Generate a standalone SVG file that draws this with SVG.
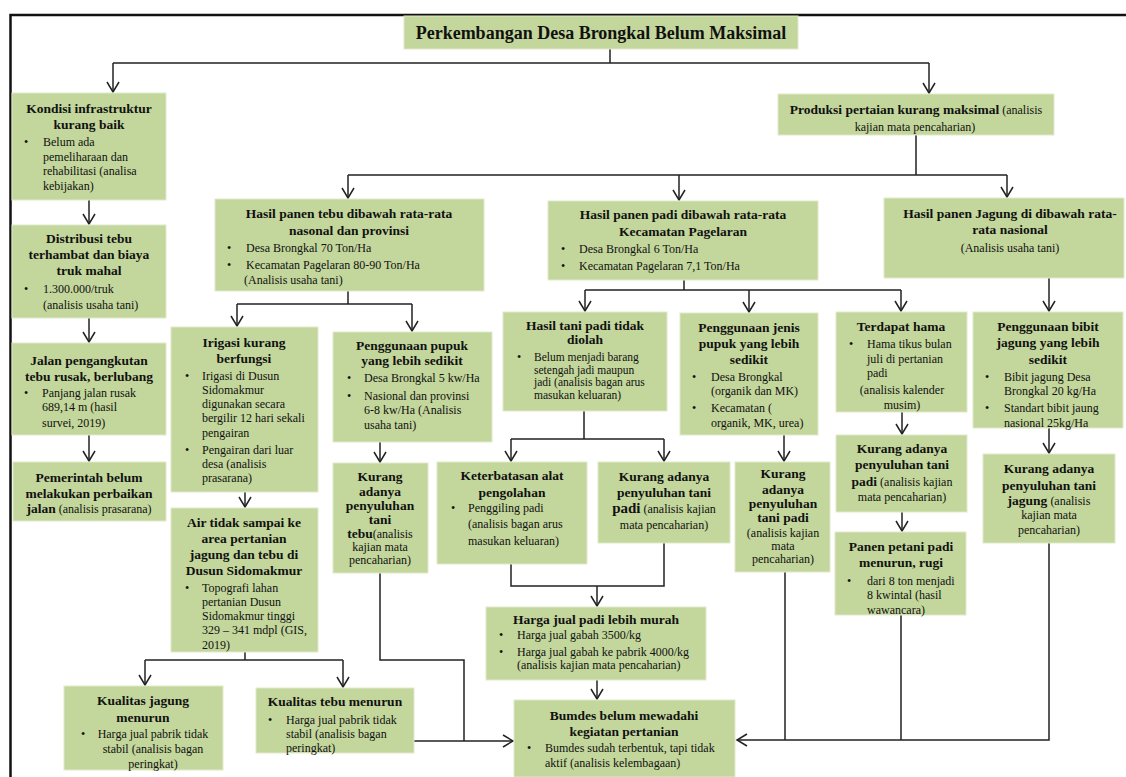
<svg xmlns="http://www.w3.org/2000/svg" width="1126" height="777" viewBox="0 0 1126 777">
<style>
.box{fill:#c3d69b;stroke:#dfe9c9;stroke-width:1}
text{font-family:"Liberation Serif","Times New Roman",serif;fill:#111}
.t{font-size:13.5px;font-weight:bold;text-anchor:middle}
.r{font-size:12px}
.rc{font-size:12px;text-anchor:middle}
.bb{font-weight:bold;font-size:13.5px}
.conn path{fill:none;stroke:#222;stroke-width:1.5}
</style>
<defs>
<marker id="ah" viewBox="-12 -7 14 14" refX="0" refY="0" markerWidth="14" markerHeight="14" markerUnits="userSpaceOnUse" orient="auto">
<path d="M-10,-6 L0,0 L-10,6" fill="none" stroke="#222" stroke-width="1.5"/>
</marker>
</defs>
<rect x="10.5" y="15" width="1130" height="800" fill="#fff" stroke="#111" stroke-width="2.5"/>

<g class="conn">
<path d="M610,49 V63 M113,63 H929"/>
<path d="M113,63 V92" marker-end="url(#ah)"/>
<path d="M929,63 V93" marker-end="url(#ah)"/>
<path d="M89,200 V224" marker-end="url(#ah)"/>
<path d="M89,318 V342" marker-end="url(#ah)"/>
<path d="M89,435 V461" marker-end="url(#ah)"/>
<path d="M916,135 V175 M348,175 H1007"/>
<path d="M348,175 V198" marker-end="url(#ah)"/>
<path d="M679,175 V200" marker-end="url(#ah)"/>
<path d="M1007,175 V197" marker-end="url(#ah)"/>
<path d="M348,291 V304 M237,304 H412"/>
<path d="M237,304 V326" marker-end="url(#ah)"/>
<path d="M412,304 V331" marker-end="url(#ah)"/>
<path d="M245,492 V507" marker-end="url(#ah)"/>
<path d="M245,652 V660 M145,660 H343"/>
<path d="M145,660 V685" marker-end="url(#ah)"/>
<path d="M343,660 V687" marker-end="url(#ah)"/>
<path d="M380,442 V462" marker-end="url(#ah)"/>
<path d="M380,573 V660 H464 V741"/>
<path d="M414,741 H513" marker-end="url(#ah)"/>
<path d="M684,280 V290 M585,290 H901"/>
<path d="M585,290 V311" marker-end="url(#ah)"/>
<path d="M749,290 V312" marker-end="url(#ah)"/>
<path d="M901,290 V311" marker-end="url(#ah)"/>
<path d="M584,411 V439 M511,439 H664"/>
<path d="M511,439 V461" marker-end="url(#ah)"/>
<path d="M664,439 V461" marker-end="url(#ah)"/>
<path d="M511,564 V586 H664 V543"/>
<path d="M597,586 V606" marker-end="url(#ah)"/>
<path d="M597,680 V699" marker-end="url(#ah)"/>
<path d="M784,435 V461" marker-end="url(#ah)"/>
<path d="M902,412 V434" marker-end="url(#ah)"/>
<path d="M902,512 V531" marker-end="url(#ah)"/>
<path d="M1049,278 V311" marker-end="url(#ah)"/>
<path d="M1049,428 V453" marker-end="url(#ah)"/>
<path d="M1049,543 V740 H737" marker-end="url(#ah)"/>
<path d="M785,572 V740 M901,615 V740"/>
</g>

<g id="n_title">
<rect class="box" x="404" y="16" width="394" height="33"/>
<text x="601" y="39" style="font-size:18px;font-weight:bold" text-anchor="middle">Perkembangan Desa Brongkal Belum Maksimal</text>
</g>

<g id="n_infra">
<rect class="box" x="12" y="93" width="154" height="107"/>
<text class="t" x="89" y="113">Kondisi infrastruktur</text>
<text class="t" x="89" y="129">kurang baik</text>
<text class="r" x="24" y="146">•</text>
<text class="r" x="43" y="146">Belum ada</text>
<text class="r" x="43" y="161">pemeliharaan dan</text>
<text class="r" x="43" y="175">rehabilitasi (analisa</text>
<text class="r" x="43" y="190">kebijakan)</text>
</g>

<g id="n_distribusi">
<rect class="box" x="12" y="225" width="154" height="93"/>
<text class="t" x="89" y="243">Distribusi tebu</text>
<text class="t" x="89" y="259">terhambat dan biaya</text>
<text class="t" x="89" y="275">truk mahal</text>
<text class="r" x="24" y="293">•</text>
<text class="r" x="43" y="293">1.300.000/truk</text>
<text class="r" x="43" y="309">(analisis usaha tani)</text>
</g>

<g id="n_jalan">
<rect class="box" x="12" y="343" width="154" height="92"/>
<text class="t" x="89" y="365">Jalan  pengangkutan</text>
<text class="t" x="89" y="381">tebu rusak, berlubang</text>
<text class="r" x="24" y="397">•</text>
<text class="r" x="42" y="397">Panjang jalan rusak</text>
<text class="r" x="42" y="411">689,14 m  (hasil</text>
<text class="r" x="42" y="427">survei, 2019)</text>
</g>

<g id="n_pemerintah">
<rect class="box" x="13" y="462" width="153" height="59"/>
<text class="t" x="89" y="482">Pemerintah belum</text>
<text class="t" x="89" y="498">melakukan perbaikan</text>
<text class="rc" x="89" y="513"><tspan class="bb">jalan</tspan> (analisis prasarana)</text>
</g>

<g id="n_produksi">
<rect class="box" x="778" y="94" width="276" height="41"/>
<text class="rc" x="916" y="114"><tspan class="bb">Produksi pertaian kurang maksimal</tspan> (analisis</text>
<text class="rc" x="915" y="131">kajian mata pencaharian)</text>
</g>

<g id="n_tebu">
<rect class="box" x="215" y="199" width="269" height="92"/>
<text class="t" x="349" y="218">Hasil panen tebu dibawah rata-rata</text>
<text class="t" x="349" y="235">nasonal dan provinsi</text>
<text class="r" x="227" y="252">•</text>
<text class="r" x="246" y="252">Desa Brongkal 70 Ton/Ha</text>
<text class="r" x="227" y="269">•</text>
<text class="r" x="246" y="269">Kecamatan Pagelaran 80-90 Ton/Ha</text>
<text class="r" x="244" y="284">(Analisis usaha tani)</text>
</g>

<g id="n_padi">
<rect class="box" x="548" y="201" width="270" height="79"/>
<text class="t" x="683" y="219">Hasil panen padi dibawah rata-rata</text>
<text class="t" x="683" y="236">Kecamatan Pagelaran</text>
<text class="r" x="561" y="253">•</text>
<text class="r" x="579" y="253">Desa Brongkal 6 Ton/Ha</text>
<text class="r" x="561" y="270">•</text>
<text class="r" x="579" y="270">Kecamatan Pagelaran 7,1 Ton/Ha</text>
</g>

<g id="n_jagung">
<rect class="box" x="884" y="198" width="240" height="80"/>
<text class="t" x="1010" y="218">Hasil panen Jagung di dibawah rata-</text>
<text class="t" x="1010" y="234">rata nasional</text>
<text class="rc" x="1010" y="252">(Analisis  usaha tani)</text>
</g>

<g id="n_irigasi">
<rect class="box" x="171" y="327" width="147" height="165"/>
<text class="t" x="244" y="347">Irigasi kurang</text>
<text class="t" x="244" y="363">berfungsi</text>
<text class="r" x="185" y="380">•</text>
<text class="r" x="202" y="380">Irigasi di Dusun</text>
<text class="r" x="202" y="394">Sidomakmur</text>
<text class="r" x="202" y="408">digunakan  secara</text>
<text class="r" x="202" y="422">bergilir 12 hari sekali</text>
<text class="r" x="202" y="437">pengairan</text>
<text class="r" x="185" y="454">•</text>
<text class="r" x="202" y="454">Pengairan dari luar</text>
<text class="r" x="202" y="468">desa (analisis</text>
<text class="r" x="202" y="482">prasarana)</text>
</g>

<g id="n_pupuk">
<rect class="box" x="333" y="332" width="159" height="110"/>
<text class="t" x="412" y="350">Penggunaan pupuk</text>
<text class="t" x="412" y="365">yang lebih sedikit</text>
<text class="r" x="347" y="382">•</text>
<text class="r" x="364" y="382">Desa Brongkal 5 kw/Ha</text>
<text class="r" x="347" y="400">•</text>
<text class="r" x="364" y="400">Nasional dan provinsi</text>
<text class="r" x="364" y="414">6-8 kw/Ha (Analisis</text>
<text class="r" x="364" y="429">usaha tani)</text>
</g>

<g id="n_air">
<rect class="box" x="171" y="508" width="147" height="144"/>
<text class="t" x="244" y="527">Air tidak sampai  ke</text>
<text class="t" x="244" y="543">area pertanian</text>
<text class="t" x="244" y="559">jagung dan tebu di</text>
<text class="t" x="244" y="575">Dusun Sidomakmur</text>
<text class="r" x="185" y="592">•</text>
<text class="r" x="202" y="592">Topografi lahan</text>
<text class="r" x="202" y="606">pertanian Dusun</text>
<text class="r" x="202" y="620">Sidomakmur tinggi</text>
<text class="r" x="202" y="634">329 – 341 mdpl (GIS,</text>
<text class="r" x="202" y="649">2019)</text>
</g>

<g id="n_kjagung">
<rect class="box" x="64" y="686" width="159" height="84"/>
<text class="t" x="143" y="705">Kualitas jagung</text>
<text class="t" x="143" y="722">menurun</text>
<text class="r" x="81" y="738">•</text>
<text class="rc" x="153" y="738">Harga jual pabrik tidak</text>
<text class="rc" x="153" y="753">stabil (analisis bagan</text>
<text class="rc" x="153" y="768">peringkat)</text>
</g>

<g id="n_ktebu">
<rect class="box" x="256" y="688" width="158" height="65"/>
<text class="t" x="335" y="706">Kualitas tebu menurun</text>
<text class="r" x="268" y="724">•</text>
<text class="r" x="286" y="724">Harga jual pabrik tidak</text>
<text class="r" x="286" y="738">stabil (analisis bagan</text>
<text class="r" x="286" y="752">peringkat)</text>
</g>

<g id="n_tebu_penyuluhan">
<rect class="box" x="333" y="463" width="95" height="110"/>
<text class="t" x="380" y="481">Kurang</text>
<text class="t" x="380" y="496">adanya</text>
<text class="t" x="380" y="510">penyuluhan</text>
<text class="t" x="380" y="524">tani</text>
<text class="rc" x="380" y="538"><tspan class="bb">tebu</tspan>(analisis</text>
<text class="rc" x="380" y="551">kajian mata</text>
<text class="rc" x="380" y="564">pencaharian)</text>
</g>

<g id="n_diolah">
<rect class="box" x="503" y="312" width="164" height="99"/>
<text class="t" x="585" y="330">Hasil tani padi tidak</text>
<text class="t" x="585" y="344">diolah</text>
<text class="r" x="517" y="361">•</text>
<text class="r" x="534" y="361" style="font-size:11.5px">Belum menjadi barang</text>
<text class="r" x="534" y="374" style="font-size:11.5px">setengah jadi maupun</text>
<text class="r" x="534" y="386" style="font-size:11.5px">jadi (analisis bagan  arus</text>
<text class="r" x="534" y="399" style="font-size:11.5px">masukan keluaran)</text>
</g>

<g id="n_jenis">
<rect class="box" x="680" y="313" width="138" height="122"/>
<text class="t" x="749" y="332">Penggunaan jenis</text>
<text class="t" x="749" y="348">pupuk yang lebih</text>
<text class="t" x="749" y="364">sedikit</text>
<text class="r" x="692" y="381">•</text>
<text class="r" x="711" y="381">Desa Brongkal</text>
<text class="r" x="711" y="395">(organik dan MK)</text>
<text class="r" x="692" y="412">•</text>
<text class="r" x="711" y="412">Kecamatan (</text>
<text class="r" x="711" y="427">organik, MK, urea)</text>
</g>

<g id="n_hama">
<rect class="box" x="836" y="312" width="131" height="100"/>
<text class="t" x="901" y="331">Terdapat hama</text>
<text class="r" x="849" y="348">•</text>
<text class="r" x="867" y="348">Hama tikus bulan</text>
<text class="r" x="867" y="363">juli di pertanian</text>
<text class="r" x="867" y="377">padi</text>
<text class="rc" x="902" y="394">(analisis kalender</text>
<text class="rc" x="902" y="409">musim)</text>
</g>

<g id="n_bibit">
<rect class="box" x="973" y="312" width="150" height="116"/>
<text class="t" x="1048" y="331">Penggunaan bibit</text>
<text class="t" x="1048" y="347">jagung yang lebih</text>
<text class="t" x="1048" y="364">sedikit</text>
<text class="r" x="985" y="381">•</text>
<text class="r" x="1004" y="381">Bibit jagung Desa</text>
<text class="r" x="1004" y="395">Brongkal 20 kg/Ha</text>
<text class="r" x="985" y="412">•</text>
<text class="r" x="1004" y="412">Standart bibit jaung</text>
<text class="r" x="1004" y="427">nasional 25kg/Ha</text>
</g>

<g id="n_keterbatasan">
<rect class="box" x="437" y="462" width="150" height="102"/>
<text class="t" x="512" y="480">Keterbatasan alat</text>
<text class="t" x="512" y="497">pengolahan</text>
<text class="r" x="451" y="512">•</text>
<text class="r" x="468" y="512">Penggiling padi</text>
<text class="r" x="468" y="528">(analisis bagan arus</text>
<text class="r" x="468" y="545">masukan keluaran)</text>
</g>

<g id="n_padi_pen1">
<rect class="box" x="598" y="462" width="132" height="81"/>
<text class="t" x="664" y="481">Kurang adanya</text>
<text class="t" x="664" y="497">penyuluhan tani</text>
<text class="rc" x="664" y="513"><tspan class="bb" style="font-size:15px">padi</tspan> (analisis kajian</text>
<text class="rc" x="664" y="529">mata pencaharian)</text>
</g>

<g id="n_padi_pen2">
<rect class="box" x="735" y="462" width="95" height="110"/>
<text class="t" x="783" y="478">Kurang</text>
<text class="t" x="783" y="494">adanya</text>
<text class="t" x="783" y="508">penyuluhan</text>
<text class="t" x="783" y="522">tani padi</text>
<text class="rc" x="783" y="537">(analisis kajian</text>
<text class="rc" x="783" y="550">mata</text>
<text class="rc" x="783" y="563">pencaharian)</text>
</g>

<g id="n_padi_pen3">
<rect class="box" x="836" y="435" width="131" height="77"/>
<text class="t" x="902" y="453">Kurang adanya</text>
<text class="t" x="902" y="469">penyuluhan tani</text>
<text class="rc" x="902" y="486"><tspan class="bb">padi</tspan> (analisis kajian</text>
<text class="rc" x="902" y="501">mata pencaharian)</text>
</g>

<g id="n_panen">
<rect class="box" x="835" y="532" width="131" height="83"/>
<text class="t" x="901" y="551">Panen petani padi</text>
<text class="t" x="901" y="567">menurun, rugi</text>
<text class="r" x="847" y="585">•</text>
<text class="r" x="867" y="585">dari 8 ton menjadi</text>
<text class="r" x="867" y="599">8 kwintal  (hasil</text>
<text class="r" x="867" y="614">wawancara)</text>
</g>

<g id="n_jagung_pen">
<rect class="box" x="983" y="454" width="132" height="89"/>
<text class="t" x="1049" y="473">Kurang adanya</text>
<text class="t" x="1049" y="490">penyuluhan tani</text>
<text class="rc" x="1049" y="505"><tspan class="bb">jagung</tspan> (analisis</text>
<text class="rc" x="1049" y="519">kajian mata</text>
<text class="rc" x="1049" y="534">pencaharian)</text>
</g>

<g id="n_harga">
<rect class="box" x="486" y="607" width="220" height="73"/>
<text class="t" x="596" y="624">Harga jual padi lebih murah</text>
<text class="r" x="499" y="639">•</text>
<text class="r" x="517" y="639">Harga jual gabah 3500/kg</text>
<text class="r" x="499" y="656">•</text>
<text class="r" x="517" y="656">Harga jual gabah ke pabrik 4000/kg</text>
<text class="r" x="517" y="669">(analisis kajian mata pencaharian)</text>
</g>

<g id="n_bumdes">
<rect class="box" x="514" y="700" width="221" height="77"/>
<text class="t" x="624" y="720">Bumdes belum mewadahi</text>
<text class="t" x="624" y="736">kegiatan pertanian</text>
<text class="r" x="527" y="752">•</text>
<text class="r" x="545" y="752">Bumdes sudah terbentuk, tapi tidak</text>
<text class="r" x="545" y="767">aktif (analisis kelembagaan)</text>
</g>
</svg>
